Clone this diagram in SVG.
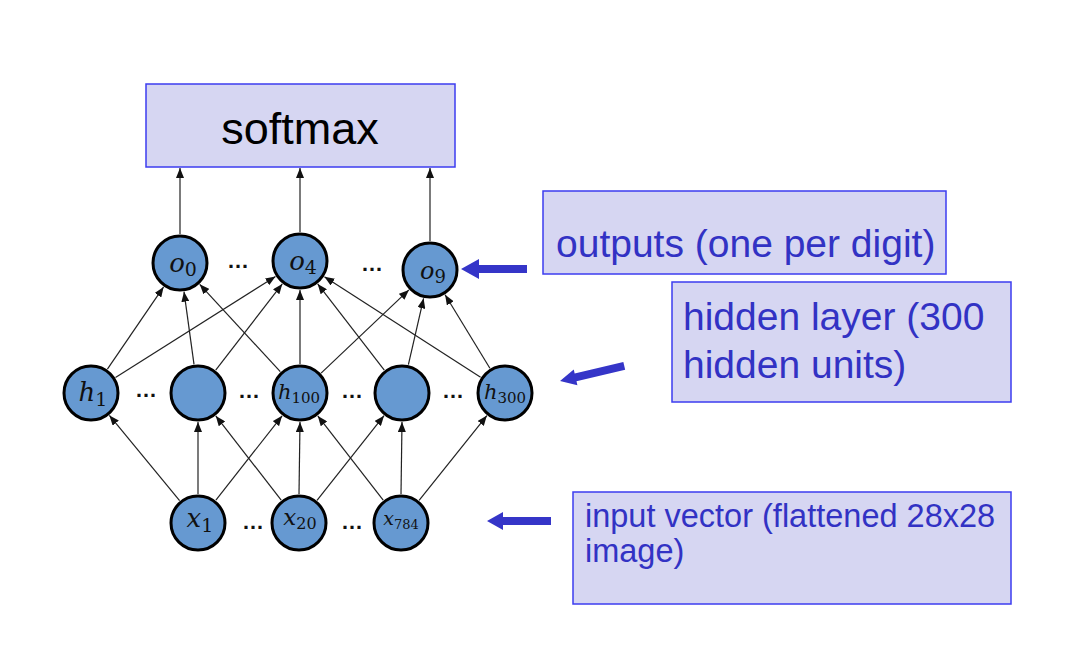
<svg xmlns="http://www.w3.org/2000/svg" width="1083" height="669" viewBox="0 0 1083 669">
<style>
.box{fill:#d6d6f2;stroke:#3c3cf0;stroke-width:1.5}
.node{fill:#6699d1;stroke:#000;stroke-width:3}
.lbl{font-family:"Liberation Sans",Arial,sans-serif;fill:#3232c4}
.math{font-family:"DejaVu Serif","Liberation Serif",serif;font-style:italic;fill:#111;text-anchor:middle}
.sub{font-style:normal}
.dots{font-family:"Liberation Sans",Arial,sans-serif;font-size:22px;font-weight:bold;fill:#111;text-anchor:middle}
.edge{stroke:#222;stroke-width:1.2;fill:none;marker-end:url(#ah)}
.blue{fill:#3535c8}
</style>
<defs>
<marker id="ah" markerUnits="userSpaceOnUse" markerWidth="10" markerHeight="8" refX="10" refY="4" orient="auto">
<path d="M0,0 L10,4 L0,8 z" fill="#111"/>
</marker>
</defs>
<rect width="1083" height="669" fill="#fff"/>

<g id="connectors">
<line class="edge" x1="180" y1="234" x2="180" y2="168"/>
<line class="edge" x1="300" y1="232" x2="300" y2="168"/>
<line class="edge" x1="430" y1="241" x2="430" y2="168"/>

<line class="edge" x1="107.4" y1="369.1" x2="163.6" y2="286.9"/>
<line class="edge" x1="115.5" y1="377.5" x2="275.5" y2="276.5"/>
<line class="edge" x1="194" y1="364.3" x2="184" y2="291.7"/>
<line class="edge" x1="215.7" y1="370.1" x2="282.3" y2="283.9"/>
<line class="edge" x1="280.3" y1="371.7" x2="199.7" y2="284.3"/>
<line class="edge" x1="300" y1="364" x2="300" y2="290"/>
<line class="edge" x1="321.1" y1="373.1" x2="408.9" y2="289.9"/>
<line class="edge" x1="384.3" y1="370.1" x2="317.7" y2="283.9"/>
<line class="edge" x1="408.4" y1="364.7" x2="423.6" y2="298.3"/>
<line class="edge" x1="480.6" y1="377.3" x2="324.4" y2="276.7"/>
<line class="edge" x1="489.9" y1="368.2" x2="445.1" y2="294.8"/>

<line class="edge" x1="179.6" y1="500.6" x2="109.4" y2="415.4"/>
<line class="edge" x1="198" y1="494" x2="198" y2="422"/>
<line class="edge" x1="215.9" y1="500.2" x2="282.1" y2="415.8"/>
<line class="edge" x1="281.2" y1="500.1" x2="215.8" y2="415.9"/>
<line class="edge" x1="299" y1="494" x2="300" y2="422"/>
<line class="edge" x1="317" y1="500.3" x2="384" y2="415.7"/>
<line class="edge" x1="383.2" y1="500.1" x2="317.8" y2="415.9"/>
<line class="edge" x1="401" y1="494" x2="402" y2="422"/>
<line class="edge" x1="419.1" y1="500.4" x2="486.9" y2="415.6"/>
</g>

<g id="softmax">
<rect class="box" x="146" y="84" width="309" height="83"/>
<text x="300" y="144" font-family="Liberation Sans,Arial,sans-serif" font-size="45" text-anchor="middle" fill="#000">softmax</text>
</g>

<g id="o0"><circle class="node" cx="180" cy="263" r="27"/><text class="math" x="183" y="272" font-size="26">o<tspan class="sub" font-size="19" dy="4">0</tspan></text></g>
<g id="o4"><circle class="node" cx="300" cy="261" r="27"/><text class="math" x="303" y="270" font-size="26">o<tspan class="sub" font-size="19" dy="4">4</tspan></text></g>
<g id="o9"><circle class="node" cx="430" cy="270" r="27"/><text class="math" x="433" y="279" font-size="24">o<tspan class="sub" font-size="18" dy="4">9</tspan></text></g>

<g id="h1"><circle class="node" cx="91" cy="393" r="27"/><text class="math" x="93" y="401" font-size="26">h<tspan class="sub" font-size="19" dy="5">1</tspan></text></g>
<g id="h2"><circle class="node" cx="198" cy="393" r="27"/></g>
<g id="h100"><circle class="node" cx="300" cy="393" r="27"/><text class="math" x="299" y="399" font-size="21">h<tspan class="sub" font-size="15" dy="4">100</tspan></text></g>
<g id="h4"><circle class="node" cx="402" cy="393" r="27"/></g>
<g id="h300"><circle class="node" cx="505" cy="393" r="27"/><text class="math" x="505" y="399" font-size="21">h<tspan class="sub" font-size="15" dy="4">300</tspan></text></g>

<g id="x1"><circle class="node" cx="198" cy="523" r="27"/><text class="math" x="200" y="527" font-size="26">x<tspan class="sub" font-size="19" dy="5">1</tspan></text></g>
<g id="x20"><circle class="node" cx="299" cy="523" r="27"/><text class="math" x="300" y="525" font-size="23">x<tspan class="sub" font-size="16" dy="4">20</tspan></text></g>
<g id="x784"><circle class="node" cx="401" cy="523" r="27"/><text class="math" x="401" y="525" font-size="19">x<tspan class="sub" font-size="13" dy="4">784</tspan></text></g>

<g id="ellipses">
<text class="dots" x="238" y="268">…</text>
<text class="dots" x="372" y="271">…</text>
<text class="dots" x="146" y="397">…</text>
<text class="dots" x="249" y="398">…</text>
<text class="dots" x="352" y="398">…</text>
<text class="dots" x="453" y="398">…</text>
<text class="dots" x="253" y="529">…</text>
<text class="dots" x="352" y="529">…</text>
</g>

<g id="outputs-label">
<rect class="box" x="543" y="191" width="403" height="83"/>
<text class="lbl" x="556" y="257" font-size="39">outputs (one per digit)</text>
<polygon class="blue" points="527,265 479,265 479,259 461,269 479,279 479,273 527,273"/>
</g>

<g id="hidden-label">
<rect class="box" x="672" y="282" width="339" height="120"/>
<text class="lbl" x="683" y="330" font-size="39">hidden layer (300</text>
<text class="lbl" x="683" y="378" font-size="39">hidden units)</text>
<polygon class="blue" transform="translate(560,381) rotate(-13.2)" points="0,0 16,-8 16,-4 66,-4 66,4 16,4 16,8"/>
</g>

<g id="input-label">
<rect class="box" x="573" y="492" width="438" height="112"/>
<text class="lbl" x="585" y="527" font-size="32.5">input vector (flattened 28x28</text>
<text class="lbl" x="585" y="562" font-size="32.5">image)</text>
<polygon class="blue" points="551,517 503,517 503,512 487,521 503,530 503,525 551,525"/>
</g>
</svg>
